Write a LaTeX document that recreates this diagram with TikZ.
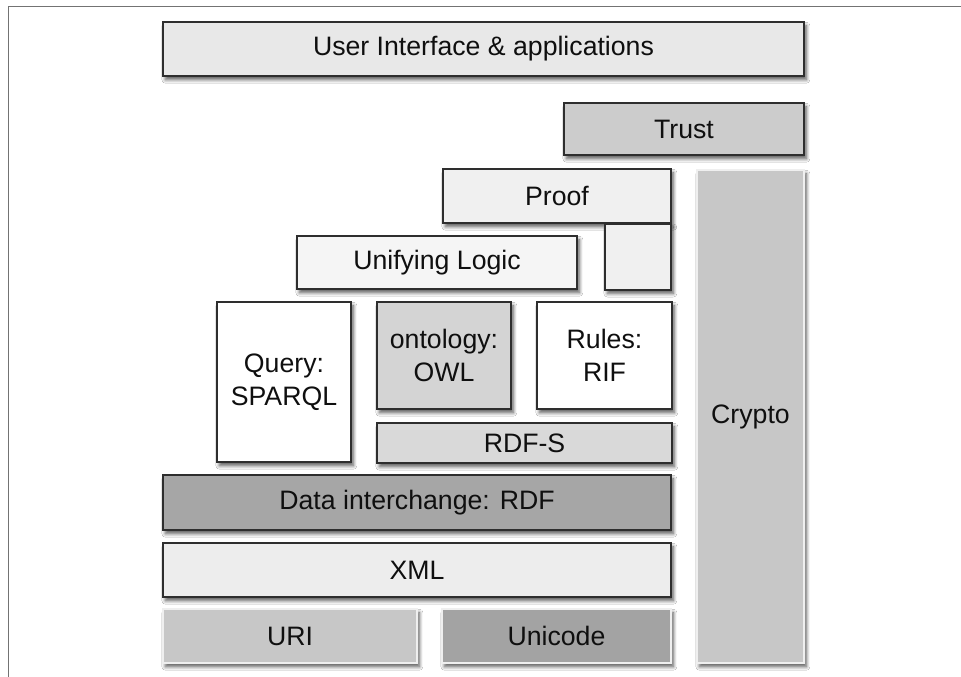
\documentclass[tikz,border=0pt]{standalone}
\usepackage{fontspec}
\setmainfont{Liberation Sans}
\usetikzlibrary{shadows,shadows.blur}
\definecolor{txt}{HTML}{0F0F0F}
\definecolor{darkedge}{HTML}{2E2E2E}
\definecolor{lightedge}{HTML}{EFEFEF}
\tikzset{
  sh/.style={blur shadow={shadow xshift=1.8pt, shadow yshift=-2.8pt, shadow blur steps=8, shadow blur radius=2.6pt, shadow opacity=65}},
  dbox/.style={rectangle, draw=darkedge, line width=1.2pt, sh, text=txt, align=center,
    font=\fontsize{20pt}{25pt}\selectfont, inner sep=0pt},
  lbox/.style={dbox, draw=lightedge, line width=1.1pt},
  frameline/.style={draw=black!55, line width=1.1pt}
}
\begin{document}
\begin{tikzpicture}[x=0.75pt,y=-0.75pt]
\useasboundingbox (0,0) rectangle (961,677);
\fill[white] (0,0) rectangle (961,677);
\coordinate (fa) at (8.5,677);
\coordinate (fb) at (8.5,6.5);
\coordinate (fc) at (961,6.5);
\draw[frameline] (fa) -- (fb) -- (fc);

\node[dbox, fill=black!9, minimum width=480.75pt, minimum height=40.5pt] (ui) at (483.5,49) {User Interface \& applications};
\node[dbox, fill=black!20, minimum width=180pt, minimum height=39pt] (trust) at (684,129) {Trust};
\node[lbox, fill=black!22, minimum width=80.25pt, minimum height=369.75pt] (crypto) at (750.5,416.5) {Crypto};
\node[dbox, fill=black!6, minimum width=171pt, minimum height=40.5pt] (proof) at (557,196) {Proof};
\node[dbox, fill=black!6, minimum width=49.5pt, minimum height=49.5pt, anchor=north] (proofext) at (638,223) {};
\node[dbox, fill=black!4, minimum width=210pt, minimum height=39.75pt] (logic) at (437,262.5) {Unifying Logic};
\node[dbox, fill=white, minimum width=100.5pt, minimum height=120pt] (query) at (284,382) {Query:\\SPARQL};
\node[dbox, fill=black!17, minimum width=100.5pt, minimum height=80.25pt] (owl) at (444,355.5) {ontology:\\OWL};
\node[dbox, fill=white, minimum width=101.25pt, minimum height=80.25pt] (rif) at (604.5,355.5) {Rules:\\RIF};
\node[dbox, fill=black!15, minimum width=221.25pt, minimum height=30pt] (rdfs) at (524.5,443) {RDF-S};
\node[dbox, fill=black!35, minimum width=381pt, minimum height=41.25pt] (rdf) at (417,502.5) {Data interchange: RDF};
\node[dbox, fill=black!7, minimum width=381pt, minimum height=40.5pt] (xml) at (417,570) {XML};
\node[lbox, fill=black!22, minimum width=190.5pt, minimum height=40.5pt] (uri) at (290,636) {URI};
\node[lbox, fill=black!36, minimum width=171.75pt, minimum height=40.5pt] (unicode) at (556.5,636) {Unicode};
\end{tikzpicture}
\end{document}
